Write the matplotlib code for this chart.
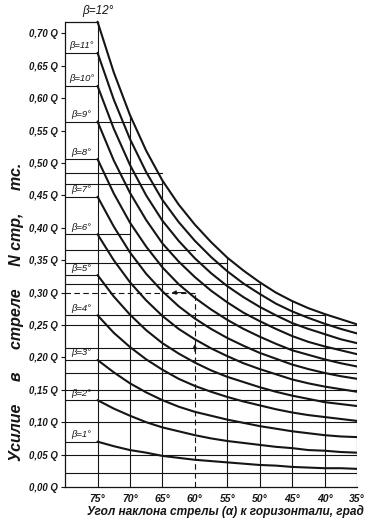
import numpy as np
import matplotlib.pyplot as plt

# boom angle alpha, deg, read every 2.5 deg along the curves
angles = [75, 72.5, 70, 67.5, 65, 62.5, 60, 57.5, 55, 52.5, 50, 47.5, 45,
          42.5, 40, 37.5, 35]

# force in the boom, fractions of Q, one list per beta
b1 = [0.070, 0.063, 0.057, 0.053, 0.048, 0.045, 0.042, 0.040, 0.038, 0.036,
      0.034, 0.033, 0.031, 0.030, 0.029, 0.029, 0.028]
b2 = [0.134, 0.121, 0.110, 0.100, 0.092, 0.086, 0.080, 0.075, 0.071, 0.068,
      0.065, 0.062, 0.060, 0.057, 0.056, 0.054, 0.053]
b3 = [0.196, 0.177, 0.160, 0.146, 0.134, 0.124, 0.116, 0.110, 0.104, 0.099,
      0.094, 0.090, 0.086, 0.083, 0.080, 0.078, 0.077]
b4 = [0.265, 0.238, 0.216, 0.197, 0.181, 0.167, 0.156, 0.147, 0.139, 0.132,
      0.126, 0.120, 0.115, 0.111, 0.108, 0.105, 0.102]
b5 = [0.327, 0.294, 0.266, 0.242, 0.222, 0.206, 0.192, 0.180, 0.170, 0.162,
      0.154, 0.147, 0.141, 0.136, 0.131, 0.128, 0.125]
b6 = [0.390, 0.350, 0.316, 0.288, 0.264, 0.244, 0.228, 0.214, 0.202, 0.191,
      0.182, 0.174, 0.166, 0.160, 0.155, 0.151, 0.147]
b7 = [0.448, 0.402, 0.362, 0.329, 0.302, 0.279, 0.260, 0.244, 0.230, 0.218,
      0.207, 0.198, 0.189, 0.182, 0.176, 0.171, 0.167]
b8 = [0.506, 0.453, 0.408, 0.371, 0.339, 0.313, 0.292, 0.274, 0.258, 0.244,
      0.232, 0.221, 0.211, 0.204, 0.197, 0.191, 0.186]
b9 = [0.564, 0.504, 0.454, 0.412, 0.376, 0.348, 0.324, 0.303, 0.285, 0.269,
      0.256, 0.244, 0.233, 0.224, 0.217, 0.211, 0.205]
b10 = [0.619, 0.553, 0.497, 0.450, 0.411, 0.380, 0.353, 0.330, 0.310, 0.293,
       0.278, 0.265, 0.253, 0.244, 0.236, 0.228, 0.222]
b11 = [0.670, 0.598, 0.537, 0.486, 0.443, 0.409, 0.380, 0.355, 0.333, 0.314,
       0.298, 0.283, 0.271, 0.261, 0.252, 0.244, 0.237]
b12 = [0.718, 0.640, 0.574, 0.519, 0.473, 0.436, 0.405, 0.378, 0.354, 0.334,
       0.316, 0.300, 0.287, 0.276, 0.267, 0.259, 0.251]
curves = [b1, b2, b3, b4, b5, b6, b7, b8, b9, b10, b11, b12]
betas = list(range(1, 13))

# vertical grid columns, deg
grid_angles = [75, 70, 65, 60, 55, 50, 45, 40, 35]

# horizontal grid lines: level and the angle where they stop
h_levels = [0.670, 0.619, 0.564, 0.506, 0.485, 0.468, 0.448, 0.390, 0.366,
            0.346, 0.327, 0.314, 0.265, 0.250, 0.214, 0.196, 0.176, 0.150,
            0.134, 0.100, 0.070, 0.050, 0.021]
h_ends = [75, 75, 70, 75, 65, 65, 75, 70, 60,
          55, 75, 50, 40, 35, 35, 35, 35, 35,
          35, 35, 75, 35, 35]

# worked example: alpha = 60 deg -> 0.30 Q
ex_angle = 60
ex_value = 0.30

yticks = np.arange(0, 0.701, 0.05)
ytick_labels = ["{:.2f} Q".format(v).replace(".", ",") for v in yticks]
xtick_labels = ["{}°".format(a) for a in grid_angles]

font = ['Liberation Sans Narrow', 'Liberation Sans', 'DejaVu Sans']
ink = '#151515'


def main():
    fig = plt.figure(figsize=(3.83, 5.24), dpi=100)
    ax = fig.add_axes([0.170, 0.0706, 0.762, 0.8904])
    ax.set_xlim(80, 35)
    ax.set_ylim(0, 0.72)

    top = b12[0]
    # frame of the nomogram: columns stop at the beta=12 curve
    ax.plot([80, 75], [top, top], color=ink, lw=0.9)
    for a in grid_angles:
        if a == ex_angle:
            continue
        v = b12[angles.index(a)]
        ax.plot([a, a], [0, v], color=ink, lw=0.8)
    for h, e in zip(h_levels, h_ends):
        ax.plot([80, e], [h, h], color=ink, lw=0.8)

    # example reading
    ax.plot([ex_angle, ex_angle], [0, ex_value], color=ink, lw=0.8,
            ls=(0, (5, 3)))
    ax.plot([80, ex_angle], [ex_value, ex_value], color=ink, lw=0.8,
            ls=(0, (5, 3)))
    ax.annotate('', xy=(ex_angle, 0.225), xytext=(ex_angle, 0.205),
                arrowprops=dict(arrowstyle='-|>', color=ink, lw=0.8,
                                mutation_scale=6))
    ax.annotate('', xy=(64, ex_value), xytext=(61, ex_value),
                arrowprops=dict(arrowstyle='-|>', color=ink, lw=0.8,
                                mutation_scale=6))

    for b, vals in zip(betas, curves):
        ax.plot(angles, vals, color=ink, lw=1.5, solid_capstyle='round')
        if b == 12:
            ax.text(75, vals[0] + 0.008, "β=12°", ha='center', va='bottom',
                    fontsize=8.5, style='italic', family=font, color=ink)
        else:
            ax.text(77.5, vals[0] + 0.004, "β={}°".format(b), ha='center',
                    va='bottom', fontsize=6.8, style='italic', family=font,
                    color=ink)

    ax.spines['top'].set_visible(False)
    ax.spines['right'].set_visible(False)
    ax.spines['left'].set_bounds(0, top)
    for s in ('left', 'bottom'):
        ax.spines[s].set_linewidth(0.9)
        ax.spines[s].set_color(ink)

    ax.set_yticks(yticks)
    ax.set_yticklabels(ytick_labels, family=font, style='italic',
                       fontsize=6.9, weight='bold', color=ink)
    ax.tick_params(axis='y', direction='out', length=3, width=0.8, pad=2,
                   color=ink)
    ax.set_xticks(grid_angles)
    ax.set_xticklabels(xtick_labels, family=font, style='italic',
                       fontsize=7.5, weight='bold', color=ink)
    ax.tick_params(axis='x', length=0, pad=5)

    fig.text(0.227, 0.023, "Угол наклона стрелы (α) к горизонтали, град",
             ha='left', va='center', fontsize=8.6, style='italic',
             weight='bold', family=font, color=ink)
    fig.text(0.042, 0.405, "Усилие     в     стреле     N стр,     тс.",
             rotation=90, ha='center', va='center', fontsize=11.5,
             style='italic', weight='bold', family=font, color=ink)

    fig.savefig("out.png", dpi=100)


if __name__ == "__main__":
    main()
